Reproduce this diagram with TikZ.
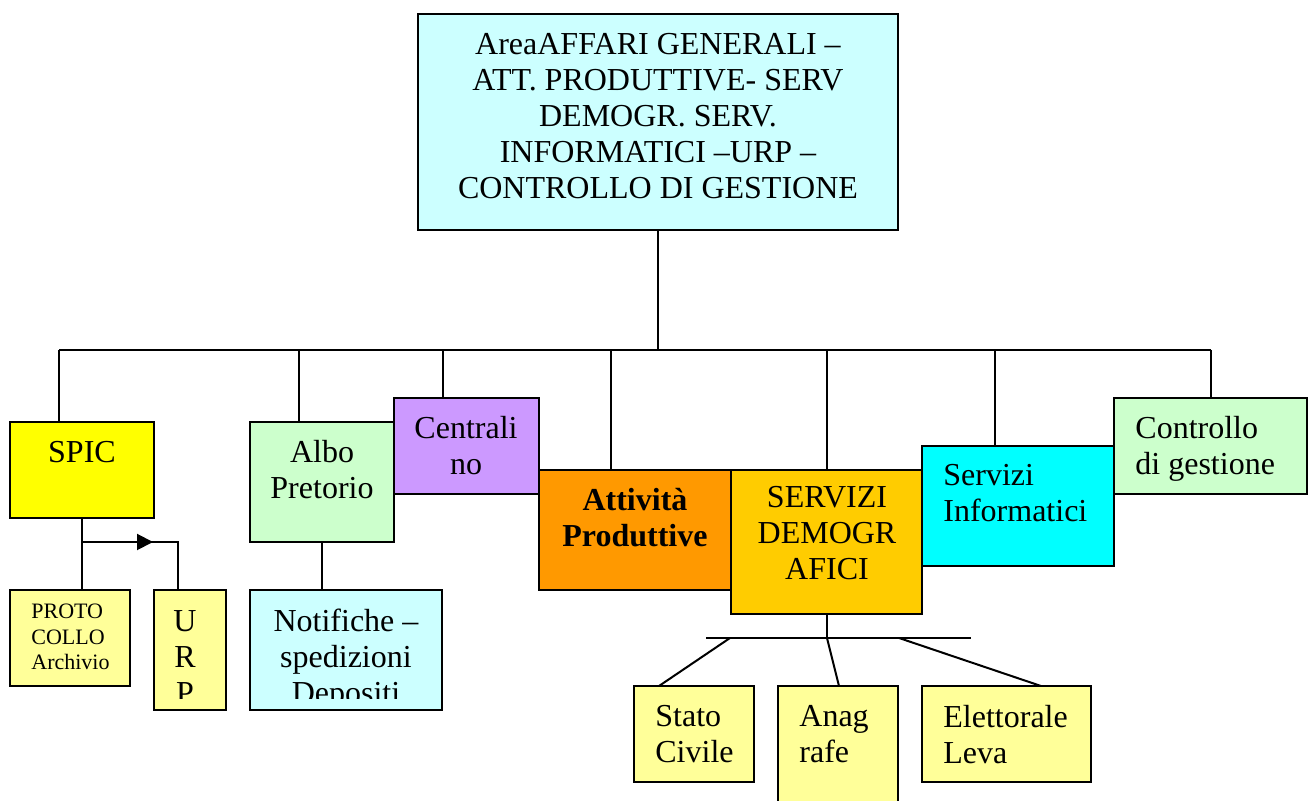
\documentclass[tikz,border=0pt]{standalone}
\usepackage{fontspec}
\setmainfont{Liberation Serif}
\usetikzlibrary{arrows.meta}
\definecolor{cTop}{HTML}{CCFFFF}
\definecolor{cSpic}{HTML}{FFFF00}
\definecolor{cGreen}{HTML}{CCFFCC}
\definecolor{cViolet}{HTML}{CC99FF}
\definecolor{cOrange}{HTML}{FF9900}
\definecolor{cGold}{HTML}{FFCC00}
\definecolor{cCyan}{HTML}{00FFFF}
\definecolor{cPale}{HTML}{FFFF99}
\newcommand\mybox[6]{\node[boxst, fill=#6, anchor=north west, minimum width={(#4-#2)*0.5pt}, minimum height={(#5-#3)*0.5pt}] (#1) at (#2,#3) {};}
\begin{document}
\begin{tikzpicture}[x=0.5pt,y=-0.5pt,
  boxst/.style={draw=black, line width=1.2pt, inner sep=0pt, outer sep=0pt},
  conn/.style={draw=black, line width=1pt},
  txt/.style={inner sep=0pt, anchor=north, align=center, font=\fontsize{16}{18}\selectfont},
  ltxt/.style={inner sep=0pt, anchor=north west, align=left, font=\fontsize{16}{18}\selectfont},
  stxt/.style={inner sep=0pt, anchor=north west, align=left, font=\fontsize{11}{12.75}\selectfont}]
\useasboundingbox (0,0) rectangle (1308,801);
\fill[white] (0,0) rectangle (1308,801);

% top box and bus
\mybox{top}{418}{14}{898}{230}{cTop}
\coordinate (bus) at (658,350);
\coordinate (busL) at (59,350);
\coordinate (busR) at (1211,350);
\coordinate (dSpic) at (59,350);
\coordinate (dAlbo) at (299,350);
\coordinate (dCent) at (443,350);
\coordinate (dAtt) at (611,350);
\coordinate (dDem) at (827,350);
\coordinate (dInf) at (995,350);
\coordinate (dCtr) at (1211,350);
\draw[conn] (top.south) -- (bus);
\draw[conn] (busL) -- (busR);

% second-level boxes
\mybox{spic}{10}{422}{154}{518}{cSpic}
\mybox{albo}{250}{422}{394}{542}{cGreen}
\mybox{cent}{394}{398}{539}{494}{cViolet}
\mybox{att}{539}{470}{731}{590}{cOrange}
\mybox{dem}{731}{470}{922}{614}{cGold}
\mybox{inf}{922}{446}{1114}{566}{cCyan}
\mybox{ctr}{1114}{398}{1307}{494}{cGreen}

\draw[conn] (dSpic) -- (dSpic |- spic.north);
\draw[conn] (dAlbo) -- (dAlbo |- albo.north);
\draw[conn] (dCent) -- (dCent |- cent.north);
\draw[conn] (dAtt) -- (dAtt |- att.north);
\draw[conn] (dDem) -- (dDem |- dem.north);
\draw[conn] (dInf) -- (dInf |- inf.north);
\draw[conn] (dCtr) -- (dCtr |- ctr.north);

% bottom-left boxes
\mybox{proto}{10}{590}{130}{686}{cPale}
\mybox{urp}{154}{590}{226}{710}{cPale}
\mybox{not}{250}{590}{442}{710}{cTop}

\coordinate (spicB) at (82,518);
\coordinate (branch) at (82,542);
\coordinate (arr) at (153,542);
\coordinate (urpC) at (178,542);
\draw[conn] (spicB) -- (spicB |- proto.north);
\draw[conn] (branch) -- (urpC) -- (urpC |- urp.north);
\draw[conn, -{Triangle[length=8pt,width=8pt]}] (branch) -- (arr);
\coordinate (alboB) at (322,542);
\draw[conn] (alboB) -- (alboB |- not.north);

% bottom-right boxes
\mybox{stato}{634}{686}{754}{782}{cPale}
\mybox{anag}{778}{686}{898}{812}{cPale}
\mybox{elet}{922}{686}{1091}{782}{cPale}
\coordinate (hub) at (827,638);
\coordinate (hubL) at (706,638);
\coordinate (hubR) at (971,638);
\coordinate (h1) at (730,638);
\coordinate (h3) at (899,638);
\coordinate (t1) at (659,686);
\coordinate (t2) at (839,686);
\coordinate (t3) at (1041,686);
\draw[conn] (dem.south -| hub) -- (hub);
\draw[conn] (hubL) -- (hubR);
\draw[conn] (h1) -- (t1);
\draw[conn] (hub) -- (t2);
\draw[conn] (h3) -- (t3);

% texts
\node[txt] (tTop) at (658,33) {AreaAFFARI GENERALI –\\ATT. PRODUTTIVE- SERV\\DEMOGR. SERV.\\INFORMATICI –URP –\\CONTROLLO DI GESTIONE};
\node[txt] (tSpic) at (82,441) {SPIC};
\node[txt] (tAlbo) at (322,440) {Albo\\Pretorio};
\node[txt] (tCent) at (466,416) {Centrali\\no};
\node[txt, font=\fontsize{16}{18}\selectfont\bfseries] (tAtt) at (635,488) {Attività\\Produttive};
\node[txt] (tDem) at (827,486) {SERVIZI\\DEMOGR\\AFICI};
\node[ltxt] (tInf) at (943,464) {Servizi\\Informatici};
\node[ltxt] (tCtr) at (1135,416) {Controllo\\di gestione};
\node[stxt] (tProto) at (31,604) {PROTO\\COLLO\\Archivio};
\begin{scope}
\clip (150,590) rectangle (450,699);
\node[txt] (tUrp) at (185,610) {U\\R\\P};
\node[txt] (tNot) at (346,609) {Notifiche –\\spedizioni\\Depositi};
\end{scope}
\node[ltxt] (tStato) at (655,705) {Stato\\Civile};
\node[ltxt] (tAnag) at (799,705) {Anag\\rafe};
\node[ltxt] (tElet) at (943,705) {Elettorale\\Leva};
\end{tikzpicture}
\end{document}
